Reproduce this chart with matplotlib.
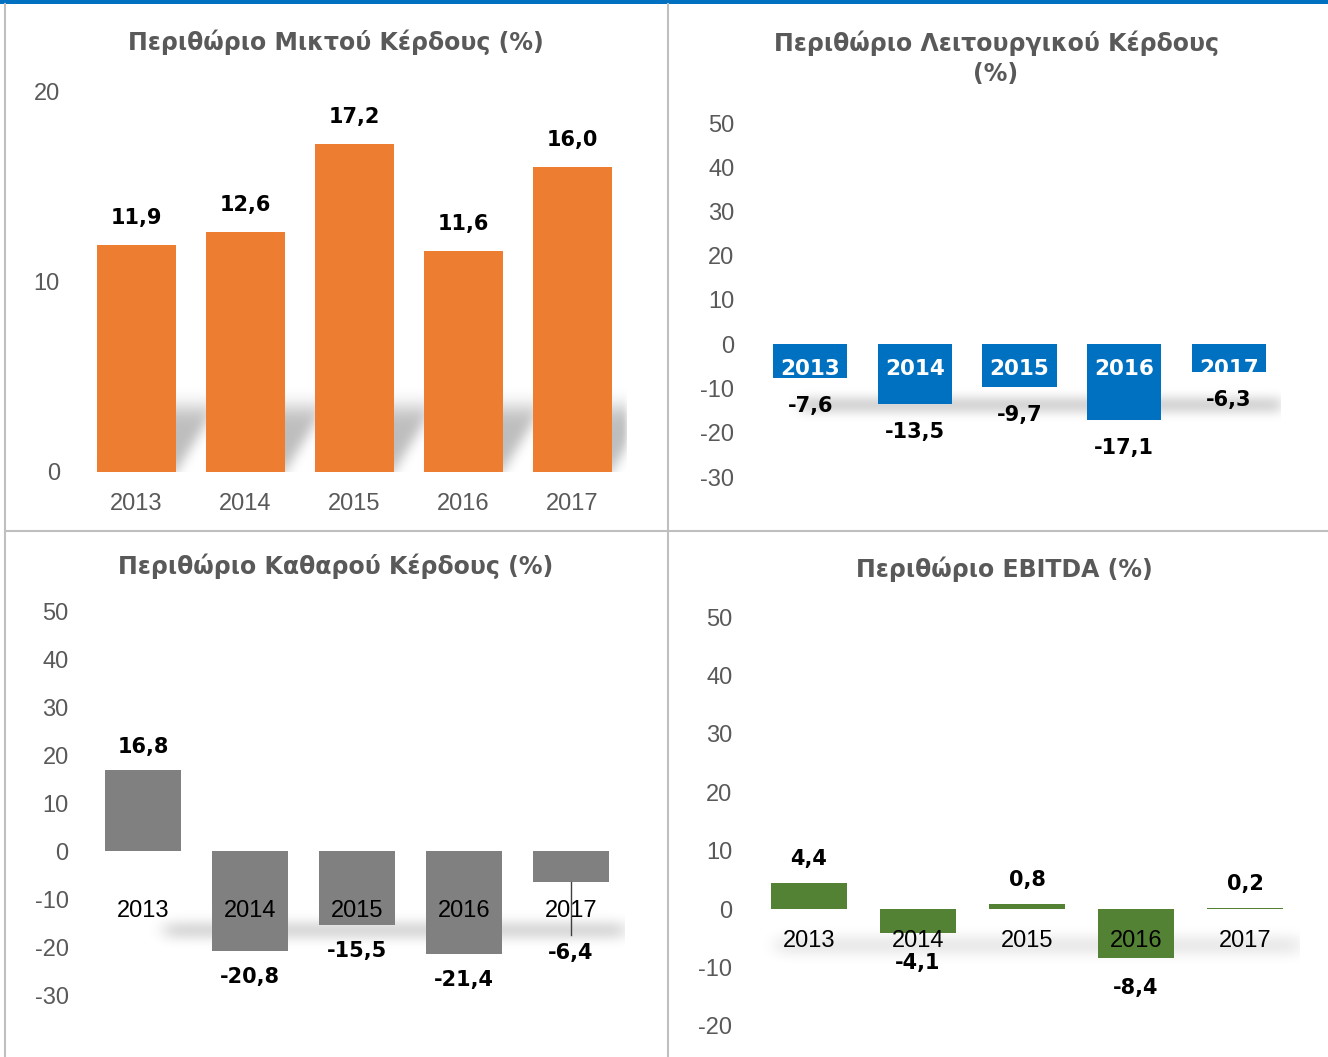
import matplotlib
matplotlib.use('Agg')
import matplotlib.pyplot as plt
import numpy as np
from matplotlib.lines import Line2D
from matplotlib.patches import Rectangle

plt.rcParams['axes.unicode_minus'] = False

years = ['2013', '2014', '2015', '2016', '2017']

gross = [11.9, 12.6, 17.2, 11.6, 16.0]
operating = [-7.6, -13.5, -9.7, -17.1, -6.3]
net = [16.8, -20.8, -15.5, -21.4, -6.4]
ebitda = [4.4, -4.1, 0.8, -8.4, 0.2]

titles = ['Περιθώριο Μικτού Κέρδους (%)',
          'Περιθώριο Λειτουργικού Κέρδους\n(%)',
          'Περιθώριο Καθαρού Κέρδους (%)',
          'Περιθώριο EBITDA (%)']

W, H = 1328, 1057
fig = plt.figure(figsize=(W / 100, H / 100), dpi=100)

BOLD = ['DejaVu Sans']
NARROW = ['Liberation Sans Narrow', 'Liberation Sans', 'DejaVu Sans']
GREY_TXT = '#595959'


def px_axes(l, r, t, b):
    return fig.add_axes([l / W, 1 - b / H, (r - l) / W, (b - t) / H])


def blur1d(a, sigma, axis):
    n = int(3 * sigma) + 1
    k = np.exp(-0.5 * (np.arange(-n, n + 1) / sigma) ** 2)
    k /= k.sum()
    return np.apply_along_axis(lambda v: np.convolve(v, k, mode='same'), axis, a)


def shadow(ax, mask_fn, sx, sy, amax):
    x0, x1 = ax.get_xlim()
    y0, y1 = ax.get_ylim()
    xs = np.linspace(x0, x1, 500)
    ys = np.linspace(y0, y1, 400)
    X, Y = np.meshgrid(xs, ys)
    m = mask_fn(X, Y).astype(float)
    m = blur1d(m, sx, 1)
    m = blur1d(m, sy, 0)
    img = np.zeros(m.shape + (4,))
    img[..., 3] = m * amax
    ax.imshow(img, extent=(x0, x1, y0, y1), origin='lower', aspect='auto',
              zorder=1, interpolation='bilinear')


def base_axes(ax, ylim, yticks, pad):
    ax.set_xlim(-0.5, 4.5)
    ax.set_ylim(*ylim)
    ax.set_yticks(yticks)
    ax.set_xticks([])
    for s in ax.spines.values():
        s.set_visible(False)
    ax.patch.set_alpha(0)
    ax.tick_params(axis='y', length=0, pad=pad, labelsize=17, labelcolor=GREY_TXT)
    for t in ax.get_yticklabels():
        t.set_family(NARROW)


def value_labels(ax, vals, up, down, special=None):
    for i, v in enumerate(vals):
        off = up if v >= 0 else -down
        if special and i in special:
            off = special[i]
        ax.annotate(f'{v:.1f}'.replace('.', ','), (i, v), xytext=(0, off),
                    textcoords='offset points', ha='center', va='center',
                    fontsize=15, fontweight='bold', family=BOLD, color='black',
                    zorder=5)


def cat_labels(ax, off, **kw):
    for i, y in enumerate(years):
        ax.annotate(y, (i, 0), xytext=(0, -off), textcoords='offset points',
                    ha='center', va='center', zorder=4, **kw)


x = np.arange(len(years))
bw = 0.72

# panel 1
ax1 = px_axes(82, 627, 91, 472)
base_axes(ax1, (0, 20), [0, 10, 20], 16)
ax1.bar(x, gross, width=bw, color='#ED7D31', zorder=3)
shadow(ax1, lambda X, Y: np.any([(Y <= 3.4) & (X >= i - bw / 2 + 0.37 * Y / 3.4)
                                 & (X <= i + bw / 2 + 0.37 * Y / 3.4) for i in x], axis=0),
       3, 10, 0.26)
value_labels(ax1, gross, 19.4, 19.4)
cat_labels(ax1, 23, fontsize=17, family=NARROW, color=GREY_TXT)

# panel 2
ax2 = px_axes(758, 1281, 123, 477)
base_axes(ax2, (-30, 50), range(-30, 51, 10), 17)
ax2.bar(x, operating, width=0.71, color='#0070C0', zorder=3)
shadow(ax2, lambda X, Y: (X >= -0.1) & (Y <= -12.2) & (Y >= -15.2), 6, 6, 0.2)
value_labels(ax2, operating, 20, 20)
cat_labels(ax2, 17.5, fontsize=15.5, fontweight='bold', family=BOLD, color='white')

# panel 3
ax3 = px_axes(89.5, 624.5, 611, 995)
base_axes(ax3, (-30, 50), range(-30, 51, 10), 15)
ax3.bar(x, net, width=0.71, color='#808080', zorder=3)
shadow(ax3, lambda X, Y: (X >= 0.2) & (Y <= -15.0) & (Y >= -18.0), 8, 6, 0.18)
value_labels(ax3, net, 16.6, 18.7, special={4: -51})
ax3.plot([4, 4], [net[4], -17.5], color='#404040', lw=1, zorder=4)
cat_labels(ax3, 43.2, fontsize=17, family=NARROW, color='black')

# panel 4
ax4 = px_axes(754.5, 1299.5, 617, 1026)
base_axes(ax4, (-20, 50), range(-20, 51, 10), 16)
ax4.bar(x, ebitda, width=0.7, color='#548235', zorder=3)
shadow(ax4, lambda X, Y: (X >= -0.3) & (Y <= -4.8) & (Y >= -7.6), 8, 6, 0.1)
value_labels(ax4, ebitda, 17.3, 21.5)
cat_labels(ax4, 23, fontsize=17, family=NARROW, color='black')

# titles
title_pos = [(336, 42), (996, 58), (336, 566), (1004, 569)]
for t, (tx, ty) in zip(titles, title_pos):
    fig.text(tx / W, 1 - ty / H, t, ha='center', va='center', fontsize=17,
             fontweight='bold', family=BOLD, color=GREY_TXT, linespacing=1.3)

# frame lines
fig.add_artist(Rectangle((0, 1 - 4 / H), 1, 4 / H, transform=fig.transFigure,
                         color='#0070C0', lw=0))
line_c = '#BFBFBF'
fig.add_artist(Line2D([5 / W, 5 / W], [0, 1 - 4 / H], transform=fig.transFigure, color=line_c, lw=1.5))
fig.add_artist(Line2D([668 / W, 668 / W], [0, 1 - 4 / H], transform=fig.transFigure, color=line_c, lw=1.5))
fig.add_artist(Line2D([5 / W, 1], [1 - 531 / H, 1 - 531 / H], transform=fig.transFigure, color=line_c, lw=1.5))

fig.savefig('out.png', dpi=100, facecolor='white')
